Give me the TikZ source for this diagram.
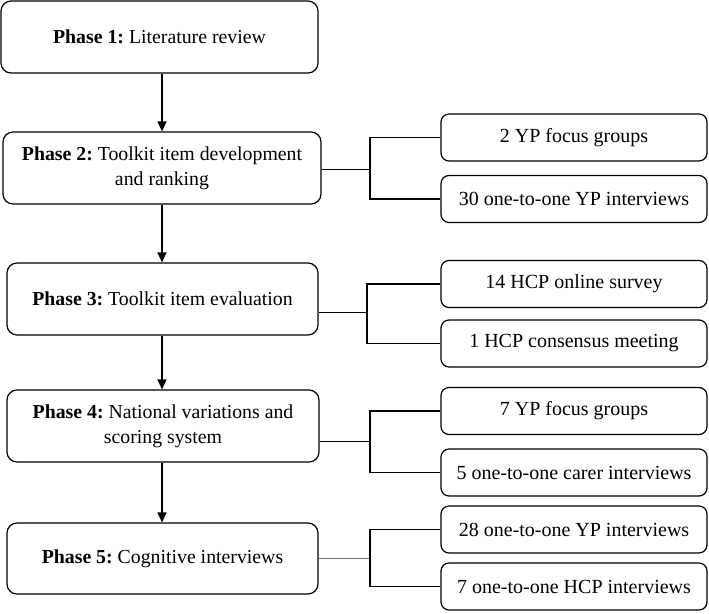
\documentclass[tikz,border=0pt]{standalone}
\usepackage{fontspec}
\setmainfont{Liberation Serif}
\usetikzlibrary{arrows.meta,calc}
\begin{document}
\frenchspacing
\begin{tikzpicture}[x=1pt,y=-1pt,
  phasebox/.style={draw=black,line width=1.2pt,rounded corners=10pt,inner sep=0pt,
    minimum height=72pt,align=center,font=\fontsize{19.8}{25}\selectfont},
  subbox/.style={draw=black,line width=1.2pt,rounded corners=8pt,inner sep=0pt,
    minimum width=266pt,minimum height=47pt,font=\fontsize{20}{24}\selectfont},
  arr/.style={line width=1.2pt,-{Triangle[length=10pt,width=9pt]}},
  outline/.style={line width=0.9pt},
  trunk/.style={line width=1.4pt}]
\useasboundingbox (0,0) rectangle (709,613);
% phase boxes
\node[phasebox,minimum width=317pt] (p1) at (159.5,37) {\textbf{Phase 1:} Literature review};
\node[phasebox,minimum width=318pt] (p2) at (162,168) {\textbf{Phase 2:} Toolkit item development\\and ranking};
\node[phasebox,minimum width=311pt] (p3) at (162.5,299) {\textbf{Phase 3:} Toolkit item evaluation};
\node[phasebox,minimum width=312pt] (p4) at (163,426) {\textbf{Phase 4:} National variations and\\scoring system};
\node[phasebox,minimum width=311pt,minimum height=71pt] (p5) at (162.5,558.5) {\textbf{Phase 5:} Cognitive interviews};
% sub boxes
\node[subbox] (r1) at (574,137.5) {2 YP focus groups};
\node[subbox] (r2) at (574,199) {30 one-to-one YP interviews};
\node[subbox] (r3) at (574,284) {14 HCP online survey};
\node[subbox] (r4) at (574,343.5) {1 HCP consensus meeting};
\node[subbox] (r5) at (574,411) {7 YP focus groups};
\node[subbox] (r6) at (574,472.5) {5 one-to-one carer interviews};
\node[subbox] (r7) at (574,529.5) {28 one-to-one YP interviews};
\node[subbox] (r8) at (574,586.5) {7 one-to-one HCP interviews};
% arrows
\coordinate (ax) at (162,0);
\draw[arr] (p1.south -| ax) -- (p2.north -| ax);
\draw[arr] (p2.south -| ax) -- (p3.north -| ax);
\draw[arr] (p3.south -| ax) -- (p4.north -| ax);
\draw[arr] (p4.south -| ax) -- (p5.north -| ax);
% branches
\coordinate (j2) at (370,169);
\coordinate (j3) at (367,312);
\coordinate (j4) at (370,441);
\coordinate (j5) at (370,558);
\draw[outline] (p2.east |- j2) -- (j2);
\draw[outline] (p3.east |- j3) -- (j3);
\draw[outline] (p4.east |- j4) -- (j4);
\draw[outline,draw=black!55] (p5.east |- j5) -- (j5);
\draw[trunk] (r1.west) -- (r1.west -| j2) -- (r2.west -| j2) -- (r2.west);
\draw[trunk] (r3.west) -- (r3.west -| j3) -- (r4.west -| j3) -- (r4.west);
\draw[trunk] (r5.west) -- (r5.west -| j4) -- (r6.west -| j4) -- (r6.west);
\draw[trunk] (r7.west) -- (r7.west -| j5) -- (r8.west -| j5) -- (r8.west);
\end{tikzpicture}
\end{document}
